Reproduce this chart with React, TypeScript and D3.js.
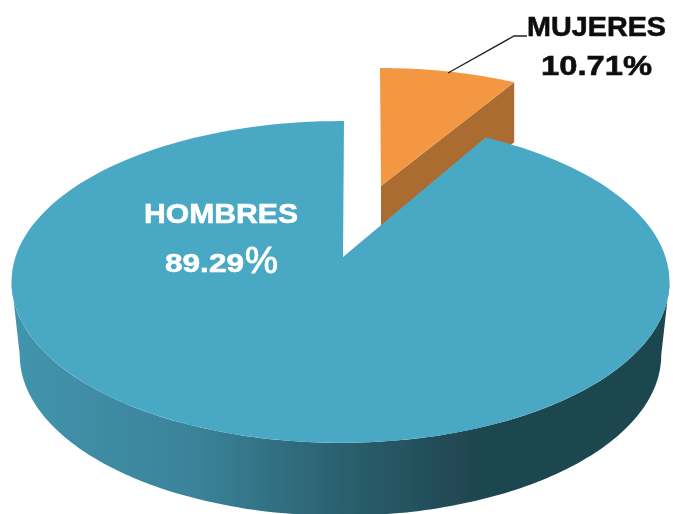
import React from "react";
import * as d3 from "d3";

const categories = ["MUJERES", "HOMBRES"];
const shares = [10.71, 89.29];
const shareLabels = ["10.71%", "89.29", "%"];
const WIDTH = 673;
const HEIGHT = 514;
const RAD = Math.PI / 180;

// Perspective of the tilted disc
const K = -0.155;
const Y_B = 157;
const projector =
  (cx: number, cy: number, sx = 1, sy = 1) =>
  (a: number): [number, number] => {
    const X = Math.sin(a);
    const Y = -Math.cos(a);
    const w = 1 + K * Y;
    return [cx + (sx * 325 * X) / w, cy + (sy * Y_B * Y) / w];
  };

const arcs = d3.pie<number>().sort(null)(shares);
// The drawn sweep is foreshortened compared with the true share
const sweep = d3
  .scaleLinear()
  .domain([0, arcs[0].endAngle, 2 * Math.PI])
  .range([0, 30.4 * RAD, 2 * Math.PI]);

const line = d3.line();
const sample = (from: number, to: number, n = 160) =>
  d3.range(n + 1).map((i) => from + ((to - from) * i) / n);

const mainTop = projector(340.5, 257);
const mainBottom = projector(340.5, 330, 0.975, 1);
const sliceTop = projector(380, 186, 0.925, 0.868);
const sliceBottom = projector(380, 246, 0.925, 0.868);

const a0 = sweep(arcs[0].startAngle);
const a1 = sweep(arcs[0].endAngle);
const a2 = sweep(arcs[1].endAngle);

const topMain =
  line([[343, 257], ...sample(a1, a2).map(mainTop), [344, 121]].map((p) => p as [number, number])) + "Z";

const edgeA = 90 * RAD + Math.asin(-K);
const edgeB = 270 * RAD - Math.asin(-K);
const wallMain =
  line([
    ...sample(edgeA, edgeB).map(mainTop),
    ...sample(edgeB, edgeA).map(mainBottom),
  ]) + "Z";

const topSlice = line([[381, 186], ...sample(a0, a1, 40).map(sliceTop)]) + "Z";
const wallSlice = line([[381, 186], sliceTop(a1), sliceBottom(a1), [381, 246]]) + "Z";

const leader = line([[448, 73], [514, 36], [527, 36]]) as string;

export default function App() {
  return (
    <svg
      width={WIDTH}
      height={HEIGHT}
      viewBox={`0 0 ${WIDTH} ${HEIGHT}`}
      style={{ position: "absolute", left: 0, top: 0, background: "#fff" }}
    >
      <defs>
        <linearGradient id="wall" gradientUnits="userSpaceOnUse" x1={15} y1={0} x2={670} y2={0}>
          <stop offset="0" stopColor="#4294ad" />
          <stop offset="0.28" stopColor="#3a8299" />
          <stop offset="0.5" stopColor="#2a606e" />
          <stop offset="0.7" stopColor="#1f4650" />
          <stop offset="1" stopColor="#1f4650" />
        </linearGradient>
        <filter id="soft" x="-5%" y="-5%" width="110%" height="110%">
          <feGaussianBlur stdDeviation="0.5" />
        </filter>
      </defs>
      <g filter="url(#soft)">
        <path d={wallSlice} fill="#ab6c31" />
        <path d={topSlice} fill="#f39743" />
        <path d={wallMain} fill="url(#wall)" />
        <path d={topMain} fill="#4aa8c4" />
        <path d={leader} fill="none" stroke="#222" strokeWidth={1.4} />
        <g fontFamily="'Liberation Sans', Arial, sans-serif" fontWeight="bold" strokeWidth={0.6}>
          <text x={527} y={36} fontSize={28} fill="#111" stroke="#111" textLength={139} lengthAdjust="spacingAndGlyphs">
            {categories[0]}
          </text>
          <text x={541} y={75} fontSize={28} fill="#111" stroke="#111" textLength={111} lengthAdjust="spacingAndGlyphs">
            {shareLabels[0]}
          </text>
          <text x={144} y={223} fontSize={28} fill="#fff" stroke="#fff" textLength={154} lengthAdjust="spacingAndGlyphs">
            {categories[1]}
          </text>
          <text x={165} y={272} fontSize={26} fill="#fff" stroke="#fff" textLength={79} lengthAdjust="spacingAndGlyphs">
            {shareLabels[1]}
          </text>
          <text x={245} y={273} fontSize={37} fill="#fff" fontWeight="normal" stroke="#fff" strokeWidth={1}>
            {shareLabels[2]}
          </text>
        </g>
      </g>
    </svg>
  );
}
